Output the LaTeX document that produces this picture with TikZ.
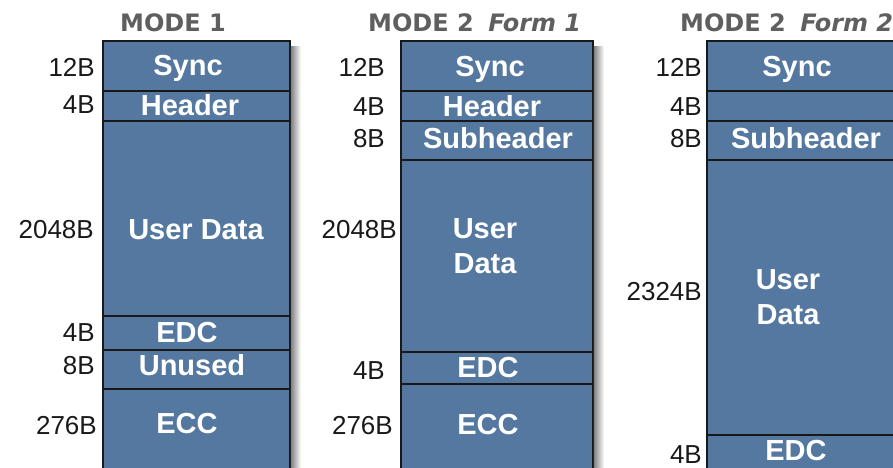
\documentclass[tikz,border=0pt]{standalone}
\usepackage{fontspec}
\setmainfont{Liberation Sans}
\newfontfamily\modefont{DejaVu Sans}
\usetikzlibrary{positioning}

\definecolor{segblue}{RGB}{84,120,160}
\definecolor{headgray}{RGB}{95,95,95}
\definecolor{shadegray}{RGB}{130,130,130}

\tikzset{
    seg/.style={draw=black!90, line width=1.8pt, fill=segblue,
        outer sep=0pt, inner sep=0pt, minimum height=#1},
    narrow/.style={minimum width=187pt},
    wide/.style={minimum width=192pt},
    segtext/.style={text=white, inner sep=0pt, align=center,
        font=\fontsize{29}{35}\selectfont\bfseries},
    oneline/.style={segtext, text height=21pt, text depth=0pt},
    bytes/.style={anchor=east, inner sep=0pt, text=black!90,
        text height=19pt, text depth=0pt,
        font=\fontsize{26}{30}\selectfont},
    modehead/.style={anchor=base west, inner sep=0pt, text=headgray,
        font=\modefont\fontsize{24}{28}\selectfont\bfseries}
}

\begin{document}
\begin{tikzpicture}[x=1pt, y=-1pt]
    \clip (0,0) rectangle (893,467);

    % headings
    \node[modehead] (mode1) at (120,31) {MODE 1};
    \node[modehead] (mode2a) at (368,31) {MODE 2\hspace{0.6em}\textit{Form 1}};
    \node[modehead] (mode2b) at (680,31) {MODE 2\hspace{0.6em}\textit{Form 2}};

    % MODE 1
    \node[seg=50pt, narrow, anchor=north west] (m1sync) at (103,41) {};
    \node[seg=30pt, narrow, below=0pt of m1sync] (m1head) {};
    \node[seg=195pt, narrow, below=0pt of m1head] (m1data) {};
    \node[seg=34pt, narrow, below=0pt of m1data] (m1edc) {};
    \node[seg=39pt, narrow, below=0pt of m1edc] (m1unused) {};
    \node[seg=111pt, narrow, below=0pt of m1unused] (m1ecc) {};
    \shade[left color=shadegray, right color=white]
        ([xshift=0.9pt,yshift=-5pt]m1sync.north east) rectangle ([xshift=11pt]m1ecc.south east);

    % MODE 2 Form 1
    \node[seg=50pt, wide, anchor=north west] (f1sync) at (401,41) {};
    \node[seg=30pt, wide, below=0pt of f1sync] (f1head) {};
    \node[seg=39pt, wide, below=0pt of f1head] (f1sub) {};
    \node[seg=192pt, wide, below=0pt of f1sub] (f1data) {};
    \node[seg=32pt, wide, below=0pt of f1data] (f1edc) {};
    \node[seg=116pt, wide, below=0pt of f1edc] (f1ecc) {};
    \shade[left color=shadegray, right color=white]
        ([xshift=0.9pt,yshift=-5pt]f1sync.north east) rectangle ([xshift=11pt]f1ecc.south east);

    % MODE 2 Form 2
    \node[seg=50pt, wide, anchor=north west] (f2sync) at (707,41) {};
    \node[seg=30pt, wide, below=0pt of f2sync] (f2head) {};
    \node[seg=39pt, wide, below=0pt of f2head] (f2sub) {};
    \node[seg=275pt, wide, below=0pt of f2sub] (f2data) {};
    \node[seg=65pt, wide, below=0pt of f2data] (f2edc) {};

    % field names
    \node[oneline] (t1sync) at (188,65) {Sync};
    \node[oneline] (t1head) at (190,105) {Header};
    \node[oneline] (t1data) at (196,229) {User Data};
    \node[oneline] (t1edc) at (187,332) {EDC};
    \node[oneline] (t1unused) at (192,365) {Unused};
    \node[oneline] (t1ecc) at (187,423) {ECC};

    \node[oneline] (u1sync) at (490,66) {Sync};
    \node[oneline] (u1head) at (492,106) {Header};
    \node[oneline] (u1sub) at (498,138) {Subheader};
    \node[segtext] (u1data) at (485,246) {User\\Data};
    \node[oneline] (u1edc) at (488,367) {EDC};
    \node[oneline] (u1ecc) at (488,424) {ECC};

    \node[oneline] (u2sync) at (797,66) {Sync};
    \node[oneline] (u2sub) at (806,138) {Subheader};
    \node[segtext] (u2data) at (788,297) {User\\Data};
    \node[oneline] (u2edc) at (796,450) {EDC};

    % sizes
    \node[bytes] (b1sync) at (95,67) {12B};
    \node[bytes] (b1head) at (95,104) {4B};
    \node[bytes] (b1data) at (94,229) {2048B};
    \node[bytes] (b1edc) at (95,332) {4B};
    \node[bytes] (b1unused) at (95,365) {8B};
    \node[bytes] (b1ecc) at (97,425) {276B};

    \node[bytes] (c1sync) at (385,67) {12B};
    \node[bytes] (c1head) at (385,106) {4B};
    \node[bytes] (c1sub) at (385,138) {8B};
    \node[bytes] (c1data) at (397,229) {2048B};
    \node[bytes] (c1edc) at (385,370) {4B};
    \node[bytes] (c1ecc) at (393,425) {276B};

    \node[bytes] (c2sync) at (702,67) {12B};
    \node[bytes] (c2head) at (702,106) {4B};
    \node[bytes] (c2sub) at (702,138) {8B};
    \node[bytes] (c2data) at (702,291) {2324B};
    \node[bytes] (c2edc) at (702,454) {4B};
\end{tikzpicture}
\end{document}
